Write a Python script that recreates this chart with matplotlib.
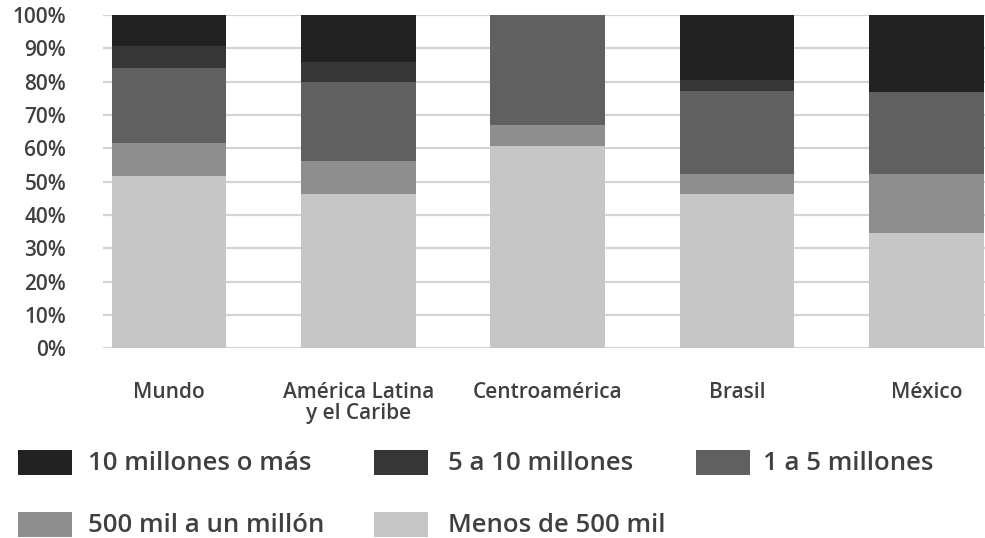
import matplotlib
matplotlib.use("Agg")
import matplotlib.pyplot as plt
from matplotlib.patches import Rectangle
import numpy as np

plt.rcParams['font.family'] = ['Open Sans', 'DejaVu Sans']

categories = ["Mundo", "América Latina\ny el Caribe", "Centroamérica", "Brasil", "México"]
series_names = ["Menos de 500 mil", "500 mil a un millón", "1 a 5 millones",
                "5 a 10 millones", "10 millones o más"]
menos_500mil = [51.7, 46.3, 60.7, 46.3, 34.7]
de_500mil_a_1m = [9.8, 9.8, 6.2, 6.0, 17.6]
de_1_a_5m = [22.5, 23.8, 33.1, 25.0, 24.5]
de_5_a_10m = [6.7, 5.9, 0.0, 3.1, 0.0]
mas_10m = [9.3, 14.2, 0.0, 19.6, 23.2]
series_values = [menos_500mil, de_500mil_a_1m, de_1_a_5m, de_5_a_10m, mas_10m]
series_colors = ["#c6c6c6", "#8e8e8e", "#606060", "#363636", "#222222"]
tick_values = list(range(0, 101, 10))
tick_labels = [f"{v}%" for v in tick_values]

text_color = "#404040"

fig = plt.figure(figsize=(9.85, 5.38), dpi=100)
ax = fig.add_axes([103 / 985, 1 - 348.3 / 538, 1 - 103 / 985, (348.3 - 15) / 538])

x = np.arange(len(categories))
bottom = np.zeros(len(categories))
for vals, color in zip(series_values, series_colors):
    vals = np.array(vals)
    ax.bar(x, vals, width=0.605, bottom=bottom, color=color,
           linewidth=0, zorder=3)
    bottom += vals

ax.set_ylim(0, 100)
ax.set_xlim(-0.349, 4.31)
ax.set_yticks(tick_values)
ax.set_yticklabels(tick_labels)
ax.set_xticks(x)
ax.set_xticklabels(categories, linespacing=1.0)
ax.yaxis.grid(True, color="#d4d4d4", linewidth=1.6, zorder=0)
ax.set_axisbelow(True)
for s in ax.spines.values():
    s.set_visible(False)
ax.tick_params(axis="y", length=0, pad=26.5, labelsize=15, labelcolor=text_color)
ax.tick_params(axis="x", length=0, pad=24, labelsize=15, labelcolor=text_color)
for lab in ax.get_yticklabels() + ax.get_xticklabels():
    lab.set_fontweight("semibold")

# legend laid out in two rows
legend_rows = [
    [(4, 18, 88), (3, 374, 448), (2, 696, 763)],
    [(1, 18, 88), (0, 374, 448)],
]
row_y = [462, 524]
for row, yc in zip(legend_rows, row_y):
    for idx, px_box, px_text in row:
        fig.patches.append(Rectangle((px_box / 985, 1 - (yc + 12.5) / 538),
                                     54 / 985, 25 / 538,
                                     transform=fig.transFigure,
                                     facecolor=series_colors[idx],
                                     edgecolor="none"))
        fig.text(px_text / 985, 1 - (yc + 1) / 538, series_names[idx],
                 fontsize=18.5, fontweight="semibold", color=text_color,
                 va="center", ha="left")

fig.savefig("out.png", dpi=100)
